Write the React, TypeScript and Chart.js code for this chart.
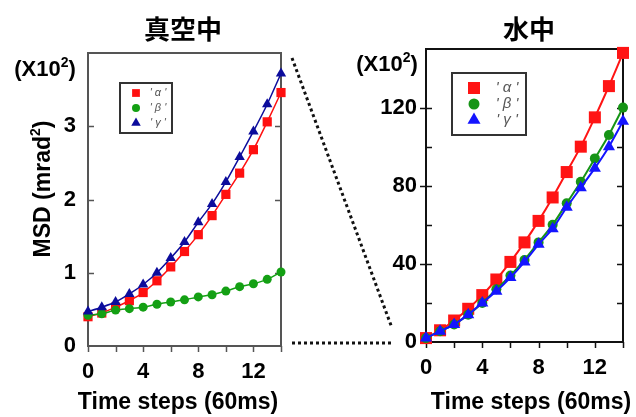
import { useEffect, useRef } from 'react';
import { Chart, registerables } from 'chart.js';

Chart.register(...registerables);

// Time step index (1 step = 60 ms)
const timeSteps = [0, 1, 2, 3, 4, 5, 6, 7, 8, 9, 10, 11, 12, 13, 14];

// MSD in vacuum (x10^2 mrad^2)
const vacuumAlpha = [0.4, 0.45, 0.53, 0.62, 0.73, 0.89, 1.08, 1.29, 1.52, 1.78, 2.07, 2.36, 2.68, 3.06, 3.46];
const vacuumBeta = [0.42, 0.44, 0.49, 0.51, 0.53, 0.57, 0.6, 0.63, 0.67, 0.7, 0.75, 0.81, 0.85, 0.91, 1.01];
const vacuumGamma = [0.47, 0.53, 0.6, 0.71, 0.84, 1.0, 1.2, 1.42, 1.69, 1.94, 2.24, 2.58, 2.93, 3.3, 3.72];

// MSD in water (x10^2 mrad^2)
const waterAlpha = [2, 6, 11, 17, 24, 32, 41, 51, 62, 74, 87, 100, 115, 131, 148];
const waterBeta = [2, 5.5, 9, 14, 20, 27, 34, 42, 51, 60, 71, 82, 94, 106, 120];
const waterGamma = [2, 5.5, 9, 14, 20, 26, 33, 41, 50, 58, 69, 79, 89, 100, 113];

const seriesNames = ['α', 'β', 'γ'];
const panelTitles = ['真空中', '水中'];
const xAxisTitle = 'Time steps (60ms)';
const yAxisTitle = 'MSD (mrad';
const scaleNote = '(X10';

const FONT = '"Liberation Sans", Arial, sans-serif';
const CJK = '"Noto Sans CJK JP", "Noto Sans CJK SC", sans-serif';

type Shape = 'rect' | 'circle' | 'triangle';
type Part = { text: string; sup?: boolean };

function drawParts(ctx: CanvasRenderingContext2D, parts: Part[], x: number, baseline: number, size: number) {
  const supSize = Math.round(size * 0.62);
  const widths = parts.map((p) => {
    ctx.font = `bold ${p.sup ? supSize : size}px ${FONT}`;
    return ctx.measureText(p.text).width;
  });
  const total = widths.reduce((a, b) => a + b, 0);
  let cx = x - total / 2;
  ctx.textAlign = 'left';
  ctx.textBaseline = 'alphabetic';
  parts.forEach((p, i) => {
    ctx.font = `bold ${p.sup ? supSize : size}px ${FONT}`;
    ctx.fillText(p.text, cx, p.sup ? baseline - size * 0.42 : baseline);
    cx += widths[i];
  });
}

function drawMarker(ctx: CanvasRenderingContext2D, shape: Shape, x: number, y: number, r: number, color: string) {
  ctx.fillStyle = color;
  ctx.beginPath();
  if (shape === 'rect') {
    const s = r * Math.SQRT1_2;
    ctx.rect(x - s, y - s, 2 * s, 2 * s);
  } else if (shape === 'circle') {
    ctx.arc(x, y, r, 0, Math.PI * 2);
  } else {
    let a = 0;
    ctx.moveTo(x + Math.sin(a) * r, y - Math.cos(a) * r);
    a += (Math.PI * 2) / 3;
    ctx.lineTo(x + Math.sin(a) * r, y - Math.cos(a) * r);
    a += (Math.PI * 2) / 3;
    ctx.lineTo(x + Math.sin(a) * r, y - Math.cos(a) * r);
    ctx.closePath();
  }
  ctx.fill();
}

type Series = { name: string; values: number[]; color: string; shape: Shape; radius: number; legendRadius: number };

type Panel = {
  title: string;
  titleX: number;
  series: Series[];
  yMax: number;
  yStep: number;
  yLabelEvery: number;
  yLabelMax: number;
  yAxisWidth: number;
  xAxisHeight: number;
  padding: { top: number; right: number; left: number; bottom: number };
  frameColor: string;
  lineWidth: number;
  yLabelPad: number;
  noteX: number;
  noteY: number;
  xTitleX: number;
  legend: { dx: number; dy: number; w: number; h: number; rows: number[]; markerDx: number; textDx: number; textSize: number };
  yTitle?: { x: number; y: number };
  connector?: boolean;
};

function makeConfig(p: Panel): any {
  const decorations = {
    id: 'decorations',
    beforeDatasetsDraw(chart: any) {
      const { ctx, chartArea: a, scales } = chart;
      ctx.save();
      ctx.strokeStyle = p.frameColor;
      ctx.lineWidth = 2;
      ctx.strokeRect(a.left, a.top, a.right - a.left, a.bottom - a.top);
      ctx.lineWidth = 1.5;
      ctx.beginPath();
      for (const t of scales.y.ticks) {
        const v = t.value;
        if (v <= 0 || v >= p.yMax || v % p.yStep !== 0) continue;
        const y = Math.round(scales.y.getPixelForValue(v)) + 0.5;
        const major = v % p.yLabelEvery === 0;
        ctx.moveTo(a.left - (p.connector ? 0 : major ? 6 : 0), y);
        ctx.lineTo(a.left + 6, y);
        ctx.moveTo(a.right - 6, y);
        ctx.lineTo(a.right, y);
      }
      for (const t of scales.x.ticks) {
        const x = Math.round(scales.x.getPixelForValue(t.value)) + 0.5;
        ctx.moveTo(x, a.bottom);
        ctx.lineTo(x, a.bottom + 6);
      }
      ctx.stroke();
      ctx.restore();
    },
    afterDraw(chart: any) {
      const { ctx, chartArea: a } = chart;
      ctx.save();
      ctx.fillStyle = '#000';

      // panel title
      ctx.font = `bold 26px ${CJK}`;
      ctx.textAlign = 'center';
      ctx.textBaseline = 'middle';
      ctx.fillText(p.title, p.titleX, 29);

      // unit multiplier
      drawParts(ctx, [{ text: scaleNote }, { text: '2', sup: true }, { text: ')' }], p.noteX, p.noteY + 8, 22);

      // x axis title
      drawParts(ctx, [{ text: xAxisTitle }], p.xTitleX, 409, 23);

      // y axis title
      if (p.yTitle) {
        ctx.save();
        ctx.translate(p.yTitle.x + 8, p.yTitle.y);
        ctx.rotate(-Math.PI / 2);
        drawParts(ctx, [{ text: yAxisTitle }, { text: '2', sup: true }, { text: ')' }], 0, 0, 23);
        ctx.restore();
      }

      // legend
      const L = p.legend;
      const bx = a.left + L.dx;
      const by = a.top + L.dy;
      ctx.fillStyle = '#fff';
      ctx.fillRect(bx, by, L.w, L.h);
      ctx.strokeStyle = '#333';
      ctx.lineWidth = 2;
      ctx.strokeRect(bx, by, L.w, L.h);
      p.series.forEach((s, i) => {
        const y = by + L.rows[i];
        drawMarker(ctx, s.shape, bx + L.markerDx, y, s.legendRadius, s.color);
        ctx.fillStyle = '#555';
        ctx.font = `italic ${L.textSize}px ${FONT}`;
        ctx.textAlign = 'center';
        ctx.textBaseline = 'middle';
        ctx.fillText(`' ${s.name} '`, bx + L.textDx, y);
      });

      // dotted connector towards the water panel
      if (p.connector) {
        ctx.strokeStyle = '#111';
        ctx.lineWidth = 3;
        ctx.setLineDash([3, 3]);
        ctx.beginPath();
        ctx.moveTo(a.right + 11, a.top + 5);
        ctx.lineTo(a.right + 111, a.bottom - 18);
        ctx.moveTo(a.right + 11, a.bottom - 3);
        ctx.lineTo(a.right + 111, a.bottom - 3);
        ctx.stroke();
      }
      ctx.restore();
    },
  };

  const tickFont = { family: FONT, size: 22, weight: 'bold' as const };

  return {
    type: 'line',
    data: {
      datasets: p.series.map((s, i) => ({
        label: s.name,
        data: timeSteps.map((t, k) => ({ x: t, y: s.values[k] })),
        borderColor: s.color,
        backgroundColor: s.color,
        borderWidth: p.lineWidth,
        pointStyle: s.shape,
        pointRadius: s.radius,
        pointBorderWidth: 0,
        pointBackgroundColor: s.color,
        tension: 0.2,
        clip: false,
        order: p.series.length - i,
      })),
    },
    options: {
      responsive: false,
      animation: false,
      devicePixelRatio: 1,
      layout: { padding: p.padding },
      plugins: { legend: { display: false }, tooltip: { enabled: false }, title: { display: false } },
      scales: {
        x: {
          type: 'linear',
          min: 0,
          max: 14,
          afterFit: (s: any) => {
            s.height = p.xAxisHeight;
          },
          grid: { display: false, drawTicks: false },
          border: { display: false },
          ticks: {
            stepSize: 2,
            autoSkip: false,
            maxRotation: 0,
            padding: 13,
            color: '#000',
            font: tickFont,
            callback: (v: number) => (v % 4 === 0 ? String(v) : ''),
          },
        },
        y: {
          type: 'linear',
          min: 0,
          max: p.yMax,
          afterFit: (s: any) => {
            s.width = p.yAxisWidth;
          },
          grid: { display: false, drawTicks: false },
          border: { display: false },
          ticks: {
            stepSize: p.yStep,
            autoSkip: false,
            padding: p.yLabelPad,
            color: '#000',
            font: tickFont,
            callback: (v: number) => (v % p.yLabelEvery === 0 && v <= p.yLabelMax ? String(v) : ''),
          },
        },
      },
    },
    plugins: [decorations],
  };
}

const vacuumPanel: Panel = {
  title: panelTitles[0],
  titleX: 183,
  series: [
    { name: seriesNames[0], values: vacuumAlpha, color: '#ff1010', shape: 'rect', radius: 6.5, legendRadius: 5.5 },
    { name: seriesNames[1], values: vacuumBeta, color: '#14a014', shape: 'circle', radius: 4.5, legendRadius: 4 },
    { name: seriesNames[2], values: vacuumGamma, color: '#0c0c9c', shape: 'triangle', radius: 6, legendRadius: 5.5 },
  ],
  yMax: 4,
  yStep: 1,
  yLabelEvery: 1,
  yLabelMax: 3,
  yAxisWidth: 88,
  xAxisHeight: 71,
  padding: { top: 53, right: 119, left: 0, bottom: 0 },
  frameColor: '#555',
  lineWidth: 1.5,
  yLabelPad: 12,
  noteX: 45,
  noteY: 68,
  xTitleX: 178,
  legend: { dx: 32, dy: 30, w: 52, h: 50, rows: [10, 25, 40], markerDx: 16, textDx: 38, textSize: 11 },
  yTitle: { x: 42, y: 189 },
  connector: true,
};

const waterPanel: Panel = {
  title: panelTitles[1],
  titleX: 229,
  series: [
    { name: seriesNames[0], values: waterAlpha, color: '#ff1414', shape: 'rect', radius: 8.5, legendRadius: 8.5 },
    { name: seriesNames[1], values: waterBeta, color: '#169416', shape: 'circle', radius: 5, legendRadius: 5.5 },
    { name: seriesNames[2], values: waterGamma, color: '#1414ff', shape: 'triangle', radius: 7, legendRadius: 7.5 },
  ],
  yMax: 150,
  yStep: 20,
  yLabelEvery: 40,
  yLabelMax: 120,
  yAxisWidth: 126,
  xAxisHeight: 75,
  padding: { top: 49, right: 1, left: 0, bottom: 0 },
  frameColor: '#111',
  lineWidth: 2,
  yLabelPad: 9,
  noteX: 87,
  noteY: 63,
  xTitleX: 231,
  legend: { dx: 26, dy: 24, w: 74, h: 62, rows: [15, 31, 47], markerDx: 22, textDx: 55, textSize: 15 },
};

export default function App() {
  const vacuumRef = useRef<HTMLCanvasElement>(null);
  const waterRef = useRef<HTMLCanvasElement>(null);

  useEffect(() => {
    const vacuum = new Chart(vacuumRef.current!, makeConfig(vacuumPanel));
    const water = new Chart(waterRef.current!, makeConfig(waterPanel));
    return () => {
      vacuum.destroy();
      water.destroy();
    };
  }, []);

  return (
    <div style={{ position: 'absolute', left: 0, top: 0, width: 636, height: 417, background: '#fff', overflow: 'hidden' }}>
      <canvas ref={vacuumRef} width={400} height={417} style={{ position: 'absolute', left: 0, top: 0 }} />
      <canvas ref={waterRef} width={336} height={417} style={{ position: 'absolute', left: 300, top: 0 }} />
    </div>
  );
}
